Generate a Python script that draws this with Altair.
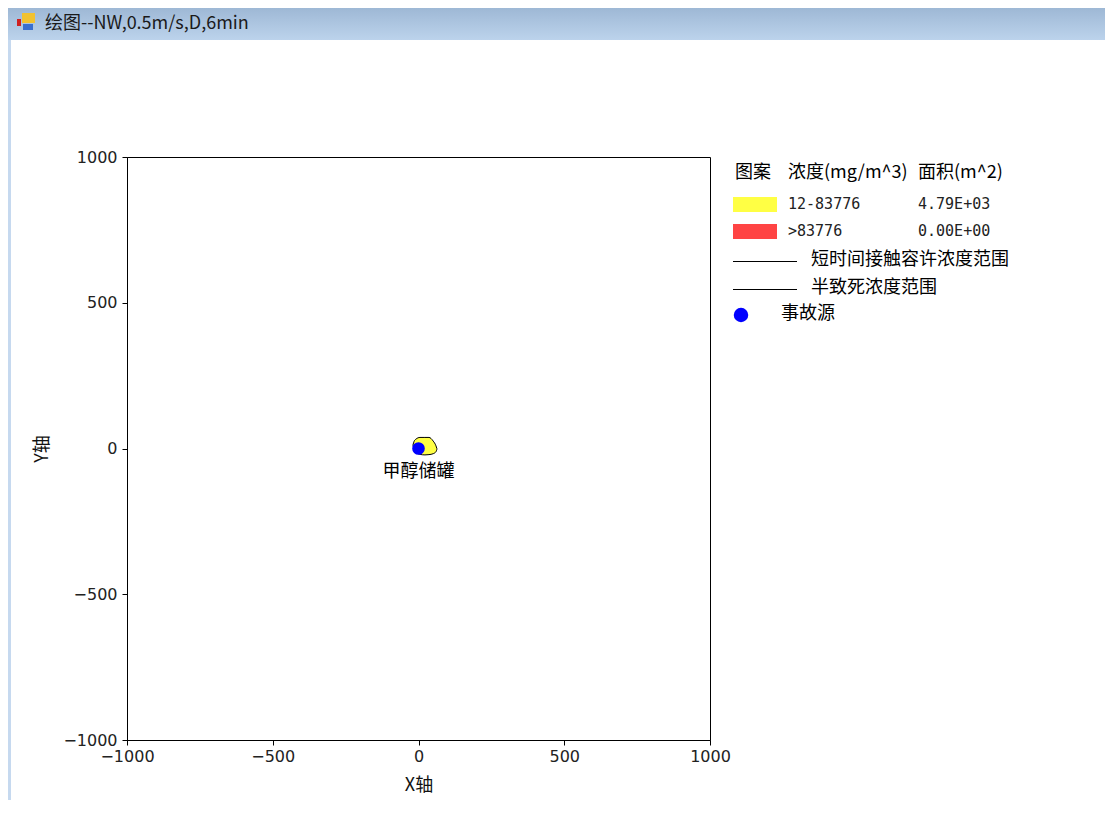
import altair as alt
import pandas as pd

# ---- data ----
window_title = "绘图--NW,0.5m/s,D,6min"
axis_ticks = [-1000, -500, 0, 500, 1000]
x_title = "X轴"
y_title = "Y轴"

# plume outline (x, upper y, lower y) in metres
plume_x = [-19, -15, -9, 5, 22, 36, 50, 60, 63]
plume_top = [12, 25, 32, 38, 38, 38, 26, 9, 0]
plume_bottom = [12, -5, -14, -20, -22, -21, -18, -11, -3]

source_x = [0]
source_y = [0]
source_name = ["甲醇储罐"]

legend_header = ["图案", "浓度(mg/m^3)", "面积(m^2)"]
conc_ranges = ["12-83776", ">83776"]
areas = ["4.79E+03", "0.00E+00"]
fill_colors = ["#FFFF44", "#FF4444"]
line_labels = ["短时间接触容许浓度范围", "半致死浓度范围"]
source_label = "事故源"

CJK = "Noto Sans CJK SC"
MONO = "DejaVu Sans Mono"

W, H = 583, 583
PL, PT, PR, PB = 119, 149, 395, 60

plume_df = pd.DataFrame({"x": plume_x, "top": plume_top, "bottom": plume_bottom})
src_df = pd.DataFrame({"x": source_x, "y": source_y, "name": source_name})
dummy = pd.DataFrame({"a": [0]})

xscale = alt.Scale(domain=[-1000, 1000], nice=False, zero=False)
yscale = alt.Scale(domain=[-1000, 1000], nice=False, zero=False)

xaxis = alt.Axis(values=axis_ticks, format="d", grid=False, tickSize=5, tickColor="black",
                 domainColor="black", labelFontSize=16, labelColor="#222",
                 labelFont="DejaVu Sans", labelFlush=False, labelOverlap=False,
                 labelPadding=3, title=x_title, titleFont=CJK, titleFontSize=18,
                 titleFontWeight="normal", titleColor="#111", titlePadding=12)
yaxis = alt.Axis(values=axis_ticks, format="d", grid=False, tickSize=5, tickColor="black",
                 domainColor="black", labelFontSize=16, labelColor="#222",
                 labelFont="DejaVu Sans", labelFlush=False, labelOverlap=False,
                 labelPadding=5, title=y_title, titleFont=CJK, titleFontSize=18,
                 titleFontWeight="normal", titleColor="#111", titlePadding=11)

plume = alt.Chart(plume_df).mark_area(
    fill="#FFFF44", stroke="black", strokeWidth=1, interpolate="monotone", opacity=1
).encode(
    x=alt.X("x:Q", scale=xscale, axis=xaxis),
    y=alt.Y("top:Q", scale=yscale, axis=yaxis),
    y2="bottom:Q",
)

src = alt.Chart(src_df).mark_circle(size=160, color="#0000FF", opacity=1).encode(
    x=alt.X("x:Q", scale=xscale), y=alt.Y("y:Q", scale=yscale)
)
src_label = alt.Chart(src_df).mark_text(
    dy=23, fontSize=18, font=CJK, color="black"
).encode(x=alt.X("x:Q", scale=xscale), y=alt.Y("y:Q", scale=yscale), text="name:N")

layers = [plume, src, src_label]


def vrect(x1, x2, y1, y2, fill):
    return alt.Chart(dummy).mark_rect(fill=fill, strokeWidth=0).encode(
        x=alt.value(x1), x2=alt.value(x2), y=alt.value(y1), y2=alt.value(y2))


def vtext(x, y, txt, size=18, font=CJK, color="black", align="left"):
    return alt.Chart(dummy).mark_text(
        text=txt, fontSize=size, font=font, color=color, align=align, baseline="middle"
    ).encode(x=alt.value(x), y=alt.value(y))


# window title bar
bar_fill = alt.Gradient(
    gradient="linear",
    stops=[alt.GradientStop(color="#9eb8d5", offset=0),
           alt.GradientStop(color="#bcd3ec", offset=1)],
    x1=0, x2=0, y1=0, y2=1)
layers.append(vrect(-PL, W + PR, -PT, -117, bar_fill))
layers.append(vrect(-PL, -116, -117, H + PB, "#c6d9ef"))
layers.append(vrect(-105, -92, -144, -134, "#f2c230"))
layers.append(vrect(-110, -106, -138, -131, "#d02020"))
layers.append(vrect(-104, -94, -133, -127, "#3a6fd0"))
layers.append(vtext(-82, -133, window_title, size=18, color="#1a1a1a"))

# legend
hx = [608, 661, 791]
for x, t in zip(hx, legend_header):
    layers.append(vtext(x, 16, t, size=18))
row_y = [47, 74]
for i in range(2):
    layers.append(vrect(606, 650, row_y[i] - 7, row_y[i] + 8, fill_colors[i]))
    layers.append(vtext(661, row_y[i], conc_ranges[i], size=15, font=MONO, color="#222"))
    layers.append(vtext(791, row_y[i], areas[i], size=15, font=MONO, color="#222"))
line_y = [104.5, 132.5]
for i in range(2):
    layers.append(alt.Chart(dummy).mark_rule(color="black", strokeWidth=1).encode(
        x=alt.value(606), x2=alt.value(670), y=alt.value(line_y[i])))
    layers.append(vtext(684, line_y[i] - 2, line_labels[i], size=18))
layers.append(alt.Chart(dummy).mark_circle(size=210, color="#0000FF", opacity=1).encode(
    x=alt.value(614), y=alt.value(158)))
layers.append(vtext(654, 157, source_label, size=18))

chart = alt.layer(*layers).properties(
    width=W, height=H,
    autosize=alt.AutoSizeParams(type="none"),
    padding={"left": PL, "top": PT, "right": PR, "bottom": PB},
    background="white",
).configure_view(stroke="black", strokeWidth=1)

chart.save("out.html", embed_options={"renderer": "svg", "actions": False})
